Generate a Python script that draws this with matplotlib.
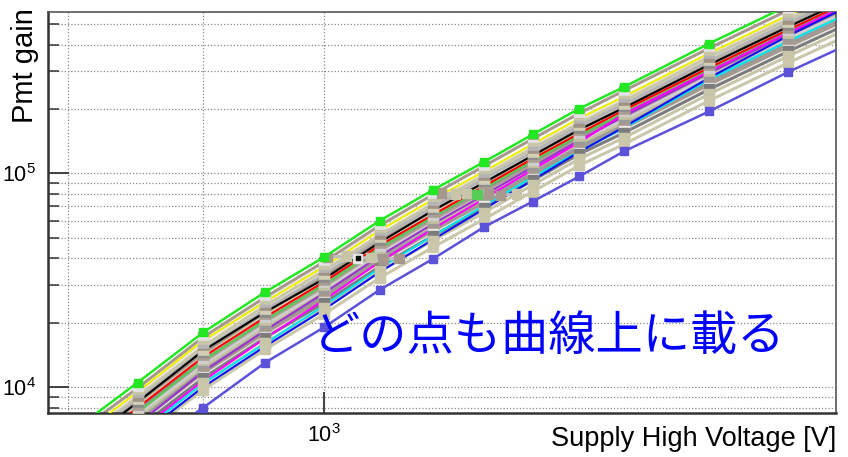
#!/usr/bin/env python3
"""Plot PMT gain curves against supply high voltage (log-log, ROOT look)."""

import matplotlib

matplotlib.use("Agg")
import matplotlib.pyplot as plt
from matplotlib.ticker import LogLocator, NullFormatter

plt.rcParams["font.family"] = ["Liberation Sans", "DejaVu Sans"]

# supply high voltage [V] for every gain curve
VOLTS = [800, 850, 900, 950, 1000, 1050, 1100, 1150, 1200, 1250, 1300, 1400, 1500, 1600]

# coloured curves
GAIN_GREEN = [6000, 10500, 18000, 27800, 40500, 60000, 83600, 113000, 152000, 201000, 254000, 405000, 610000, 880000]
GAIN_YELLOW = [5400, 9500, 16500, 25000, 36500, 54000, 75500, 102000, 137000, 181000, 229000, 365000, 550000, 790000]
GAIN_BLACK = [4800, 8500, 14800, 22400, 32000, 47500, 67000, 90500, 121000, 160000, 203000, 322000, 485000, 700000]
GAIN_LIGHTGREEN = [4300, 7600, 13300, 20500, 30000, 44500, 62500, 85000, 114000, 151000, 192000, 305000, 460000, 665000]
GAIN_RED = [4600, 8000, 13800, 21200, 31000, 46000, 64000, 87000, 117000, 154000, 198000, 312000, 470000, 680000]
GAIN_VIOLET = [3800, 6700, 11800, 18400, 27500, 41000, 58000, 79000, 107000, 143000, 185000, 295000, 450000, 650000]
GAIN_MAGENTA = [3500, 6200, 10700, 16900, 25500, 38500, 55000, 76000, 104000, 140000, 190000, 300000, 455000, 660000]
GAIN_CYAN = [3400, 6000, 10400, 16000, 24000, 36000, 51000, 70500, 96000, 127000, 163000, 275000, 415000, 600000]
GAIN_BLUE = [3300, 5800, 10000, 15500, 23000, 34500, 49000, 68000, 93000, 126000, 165000, 280000, 440000, 650000]
GAIN_SLATE = [3000, 4900, 8000, 13000, 19000, 28500, 39800, 56000, 73800, 96800, 127000, 195000, 298000, 430000]

# grey / beige curves
GAIN_T01 = [5700, 9900, 17100, 26300, 38500, 57000, 79500, 108000, 145000, 191000, 244000, 385000, 580000, 835000]
GAIN_T02 = [5300, 9400, 16300, 25200, 36800, 54500, 75000, 101000, 136000, 180000, 228000, 362000, 545000, 785000]
GAIN_T03 = [5100, 9000, 15500, 24000, 35000, 51500, 72000, 97500, 131000, 172000, 219000, 350000, 525000, 755000]
GAIN_T04 = [5000, 8700, 14900, 23000, 33500, 49800, 69500, 94000, 126000, 167000, 211000, 336000, 506000, 730000]
GAIN_T05 = [4800, 8400, 14300, 22100, 32500, 48000, 66800, 90000, 121000, 161000, 203000, 324000, 488000, 705000]
GAIN_T06 = [4600, 8100, 13900, 21500, 31200, 46000, 64500, 87000, 117000, 155000, 196000, 312000, 470000, 678000]
GAIN_T07 = [4400, 7800, 13300, 20500, 30000, 44500, 62000, 83500, 112000, 149000, 188000, 300000, 452000, 651000]
GAIN_T08 = [4300, 7600, 13000, 20000, 29200, 43200, 60200, 81500, 109500, 145000, 183000, 292000, 439000, 634000]
GAIN_T09 = [4200, 7350, 12600, 19500, 28300, 42000, 58500, 79000, 106000, 141000, 178000, 284000, 427000, 616000]
GAIN_T10 = [4100, 7150, 12200, 18900, 27500, 40800, 56800, 76800, 103000, 137000, 173000, 275000, 415000, 598000]
GAIN_T11 = [3950, 6900, 11900, 18300, 26700, 39600, 55200, 74600, 100000, 133000, 168000, 267000, 403000, 581000]
GAIN_T12 = [3850, 6700, 11500, 17800, 25900, 38400, 53500, 72300, 97300, 129000, 163000, 259000, 390000, 563000]
GAIN_T13 = [3700, 6500, 11200, 17200, 25100, 37200, 51800, 70000, 94200, 125000, 157000, 251000, 378000, 546000]
GAIN_T14 = [3650, 6400, 11000, 17000, 24700, 36600, 51000, 68900, 92700, 123000, 155000, 247000, 372000, 537000]
GAIN_T15 = [3500, 6100, 10400, 16100, 23500, 34800, 48500, 65500, 88200, 117000, 147000, 235000, 354000, 510000]
GAIN_T16 = [3250, 5700, 9700, 15000, 21900, 32400, 45100, 61000, 82100, 109000, 137000, 219000, 329000, 475000]

# two short flat runs of points
FLAT_A_VOLTS = [1003, 1020, 1030, 1042, 1053, 1068]
FLAT_A_GAIN = [40500, 41000, 40000, 40500, 39500, 40000]
FLAT_B_VOLTS = [1108, 1122, 1133, 1143, 1155, 1167, 1183]
FLAT_B_GAIN = [81000, 80000, 80500, 79500, 80000, 79000, 80000]

NOTE = "どの点も曲線上に載る"

TAUPE = "#a6988c"
BEIGE = "#c9c5a9"


def main() -> None:
    fig = plt.figure(figsize=(8.48, 4.57), dpi=100)
    ax = fig.add_axes([48 / 848, 1 - 413 / 457, 788 / 848, 401 / 457])

    tan_curves = [
        (GAIN_T01, TAUPE), (GAIN_T02, "#e2e2e2"), (GAIN_T03, BEIGE), (GAIN_T04, "#b4b4b4"),
        (GAIN_T05, "#a09386"), (GAIN_T06, "#d2cfb6"), (GAIN_T07, "#8c8c8c"), (GAIN_T08, "#ab9f93"),
        (GAIN_T09, "#cfcfcf"), (GAIN_T10, "#c5c1a3"), (GAIN_T11, "#9a9a9a"), (GAIN_T12, TAUPE),
        (GAIN_T13, "#ececec"), (GAIN_T14, "#7c7c7c"), (GAIN_T15, BEIGE), (GAIN_T16, "#cbc7ab"),
    ]
    colour_curves = [
        (GAIN_YELLOW, "#f0f000"), (GAIN_BLACK, "#000000"), (GAIN_LIGHTGREEN, "#55cc55"),
        (GAIN_RED, "#ff0000"), (GAIN_VIOLET, "#9933cc"), (GAIN_MAGENTA, "#ff00ff"),
        (GAIN_CYAN, "#00e5ee"), (GAIN_BLUE, "#1010ee"),
    ]

    # grey lines at the back, coloured lines over them, grey markers on top
    for gains, colour in tan_curves:
        ax.plot(VOLTS, gains, color=colour, lw=2.2, zorder=2)
    for gains, colour in colour_curves:
        ax.plot(VOLTS, gains, color=colour, lw=1.5, marker="s", ms=6, mec=colour, zorder=3)
    for gains, colour in tan_curves:
        ax.plot(VOLTS, gains, ls="none", marker="s", ms=6.5, color=colour, mec=colour, zorder=4)

    ax.plot(FLAT_A_VOLTS, FLAT_A_GAIN, color="#bdbdbd", lw=2.2, zorder=4)
    ax.scatter(FLAT_A_VOLTS, FLAT_A_GAIN, marker="s", s=45,
               c=[TAUPE, BEIGE, "#e8e8e8", BEIGE, TAUPE, TAUPE], zorder=4.5)
    ax.scatter(FLAT_A_VOLTS[2:3], FLAT_A_GAIN[2:3], marker="s", s=12, c="#111111", zorder=4.6)
    ax.plot(FLAT_B_VOLTS, FLAT_B_GAIN, color="#bdbdbd", lw=2.2, zorder=4)
    ax.scatter(FLAT_B_VOLTS, FLAT_B_GAIN, marker="s", s=45,
               c=[TAUPE, BEIGE, BEIGE, "#55cc55", TAUPE, TAUPE, BEIGE], zorder=4.5)

    ax.plot(VOLTS, GAIN_GREEN, color="#22e822", lw=1.8, marker="s", ms=6, zorder=5)
    ax.plot(VOLTS, GAIN_SLATE, color="#5b52d9", lw=1.8, marker="s", ms=6, zorder=5)

    ax.set_xscale("log")
    ax.set_yscale("log")
    ax.set_xlim(786, 1564)
    ax.set_ylim(7560, 569000)
    ax.xaxis.set_minor_locator(LogLocator(base=10, subs=range(2, 10)))
    ax.xaxis.set_minor_formatter(NullFormatter())
    ax.yaxis.set_minor_formatter(NullFormatter())

    ax.grid(True, which="both", ls=(0, (1, 1.6)), color="#8a8a8a", lw=0.9)
    ax.set_axisbelow(True)
    ax.tick_params(which="major", direction="in", length=15, width=1.3, labelsize=15.5,
                   color="#333333", top=False, right=False)
    ax.tick_params(axis="y", which="major", pad=9)
    ax.tick_params(axis="x", which="major", pad=8)
    ax.tick_params(axis="y", which="minor", direction="in", length=8, width=1.1,
                   color="#333333", right=False)
    ax.tick_params(axis="x", which="minor", length=0, top=False)

    for side in ("left", "bottom"):
        ax.spines[side].set_color("#333333")
        ax.spines[side].set_linewidth(1.8)
    for side in ("top", "right"):
        ax.spines[side].set_color("#555555")
        ax.spines[side].set_linewidth(1.2)

    fig.text(836 / 848, 1 - 446 / 457, "Supply High Voltage [V]", fontsize=19.5,
             ha="right", va="baseline")
    fig.text(25 / 848, 1 - 8 / 457, "Pmt gain", fontsize=21, rotation=90,
             ha="center", va="top")
    fig.text(313 / 848, 1 - 337 / 457, NOTE, fontsize=34, color="#0000ff",
             family=["Noto Sans CJK JP", "DejaVu Sans"], ha="left", va="center", zorder=10)

    fig.savefig("out.png", dpi=100)
    plt.close(fig)


if __name__ == "__main__":
    main()
